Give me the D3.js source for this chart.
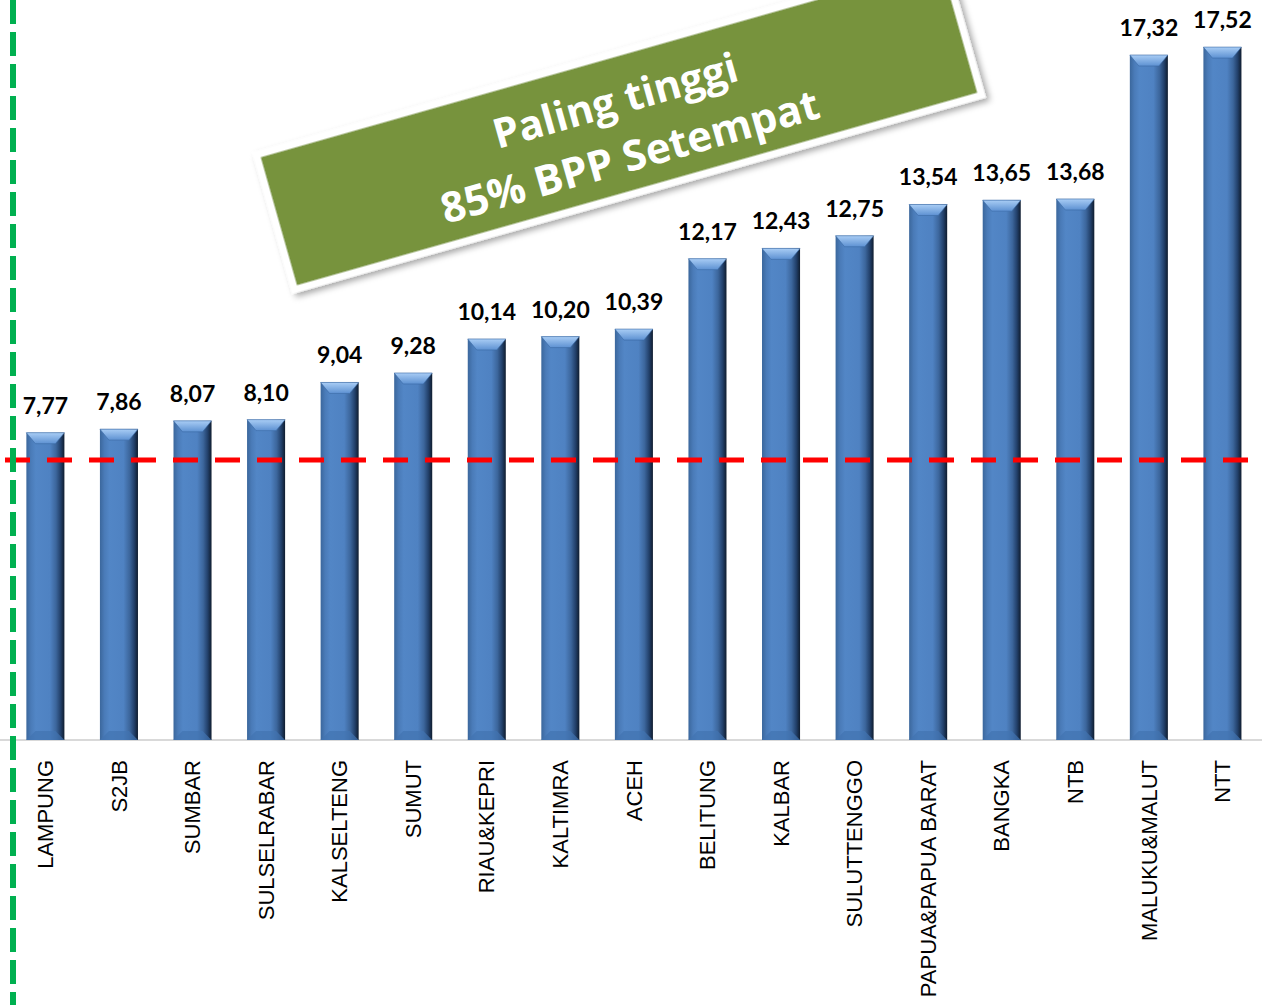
<!DOCTYPE html>
<html>
<head>
<meta charset="utf-8">
<script src="https://cdn.jsdelivr.net/npm/d3@7"></script>
<style>
  body { margin: 0; background: #fff; }
  svg { display: block; }
</style>
</head>
<body>
<svg id="chart" width="1262" height="1005"></svg>
<script>
// data
const regions = ["LAMPUNG", "S2JB", "SUMBAR", "SULSELRABAR", "KALSELTENG", "SUMUT", "RIAU&KEPRI",
  "KALTIMRA", "ACEH", "BELITUNG", "KALBAR", "SULUTTENGGO", "PAPUA&PAPUA BARAT", "BANGKA", "NTB",
  "MALUKU&MALUT", "NTT"]
const values = [7.77, 7.86, 8.07, 8.10, 9.04, 9.28, 10.14, 10.20, 10.39, 12.17, 12.43, 12.75,
  13.54, 13.65, 13.68, 17.32, 17.52]
const threshold = 7.08
const noteLines = ["Paling tinggi", "85% BPP Setempat"]

const width = 1262, height = 1005
const baseY = 740

const svg = d3.select("#chart")

const x = d3.scaleBand()
    .domain(regions)
    .range([8.6, 1259.2])
    .paddingInner(0.483)
    .paddingOuter(0.2415)

const y = d3.scaleLinear()
    .domain([0, 18])
    .range([baseY, baseY - 18 * 39.55])

const fmt = v => d3.format(".2f")(v).replace(".", ",")

// gradients for the bevelled bars
const defs = svg.append("defs")
const body = defs.append("linearGradient").attr("id", "barBody")
    .attr("x1", 0).attr("x2", 1).attr("y1", 0).attr("y2", 0)
body.selectAll("stop")
    .data([[0, "#3b679c"], [0.12, "#4a7bb8"], [0.25, "#5286c6"], [0.62, "#4f82c2"], [0.78, "#3c669c"], [0.9, "#22406a"], [1, "#0f1c2e"]])
    .join("stop").attr("offset", d => d[0]).attr("stop-color", d => d[1])
const cap = defs.append("linearGradient").attr("id", "barCap")
    .attr("x1", 0).attr("x2", 0).attr("y1", 0).attr("y2", 1)
cap.selectAll("stop")
    .data([[0, "#a9cdf5"], [1, "#5d91d2"]])
    .join("stop").attr("offset", d => d[0]).attr("stop-color", d => d[1])
const shadow = defs.append("filter").attr("id", "boxShadow")
    .attr("x", "-10%").attr("y", "-30%").attr("width", "120%").attr("height", "160%")
shadow.append("feDropShadow").attr("dx", 3).attr("dy", 4).attr("stdDeviation", 3)
    .attr("flood-color", "#000").attr("flood-opacity", 0.35)

// axis line
svg.append("line")
    .attr("x1", 0).attr("x2", width)
    .attr("y1", baseY).attr("y2", baseY)
    .attr("stroke", "#d9d9d9").attr("stroke-width", 2)

// bars
const bars = svg.append("g").selectAll("g")
    .data(values)
    .join("g")
    .attr("transform", (d, i) => `translate(${x(regions[i])},0)`)

const bw = x.bandwidth()
bars.append("rect")
    .attr("x", 0).attr("width", bw)
    .attr("y", d => y(d))
    .attr("height", d => baseY - y(d))
    .attr("fill", "url(#barBody)")

bars.append("path")
    .attr("d", d => {
      const t = y(d)
      return `M0,${t}L${bw},${t}L${bw - 9},${t + 11}L9,${t + 11}Z`
    })
    .attr("fill", "url(#barCap)")
    .attr("stroke", "#3a6aa5").attr("stroke-width", 0.6)

bars.append("path")
    .attr("d", `M0,${baseY}L${bw},${baseY}L${bw - 9},${baseY - 9}L9,${baseY - 9}Z`)
    .attr("fill", "#4274b0").attr("opacity", 0.7)

// value labels
bars.append("text")
    .attr("x", bw / 2)
    .attr("y", d => y(d) - 19)
    .attr("text-anchor", "middle")
    .attr("font-family", "Lato, 'Open Sans', sans-serif")
    .attr("font-weight", "bold")
    .attr("font-size", 23)
    .attr("fill", "#000")
    .text(fmt)

// category labels
svg.append("g").selectAll("text")
    .data(regions)
    .join("text")
    .attr("transform", d => `translate(${x(d) + bw / 2},${baseY + 20}) rotate(-90)`)
    .attr("text-anchor", "end")
    .attr("dy", "0.35em")
    .attr("font-family", "'Liberation Sans', Arial, sans-serif")
    .attr("font-size", 22)
    .attr("fill", "#000")
    .text(d => d)

// red threshold line
svg.append("line")
    .attr("x1", 5).attr("x2", width)
    .attr("y1", y(threshold)).attr("y2", y(threshold))
    .attr("stroke", "#ff0000").attr("stroke-width", 5)
    .attr("stroke-dasharray", "25,17")

// green vertical line
svg.append("line")
    .attr("x1", 13).attr("x2", 13)
    .attr("y1", 0).attr("y2", height)
    .attr("stroke", "#00b050").attr("stroke-width", 6)
    .attr("stroke-dasharray", "24,8")

// rotated note box
const note = svg.append("g")
    .attr("transform", "translate(619,125) rotate(-15.8)")
note.append("rect")
    .attr("x", -357).attr("y", -70)
    .attr("width", 714).attr("height", 140)
    .attr("fill", "#77933c")
    .attr("stroke", "#fff").attr("stroke-width", 7)
    .attr("filter", "url(#boxShadow)")
note.selectAll("text")
    .data(noteLines)
    .join("text")
    .attr("x", (d, i) => i ? 2 : 3)
    .attr("y", (d, i) => i ? 48 : -10)
    .attr("text-anchor", "middle")
    .attr("font-family", "'Open Sans', sans-serif")
    .attr("font-weight", "bold")
    .attr("font-size", (d, i) => i ? 42 : 41)
    .attr("fill", "#fff")
    .text(d => d)
</script>
</body>
</html>
